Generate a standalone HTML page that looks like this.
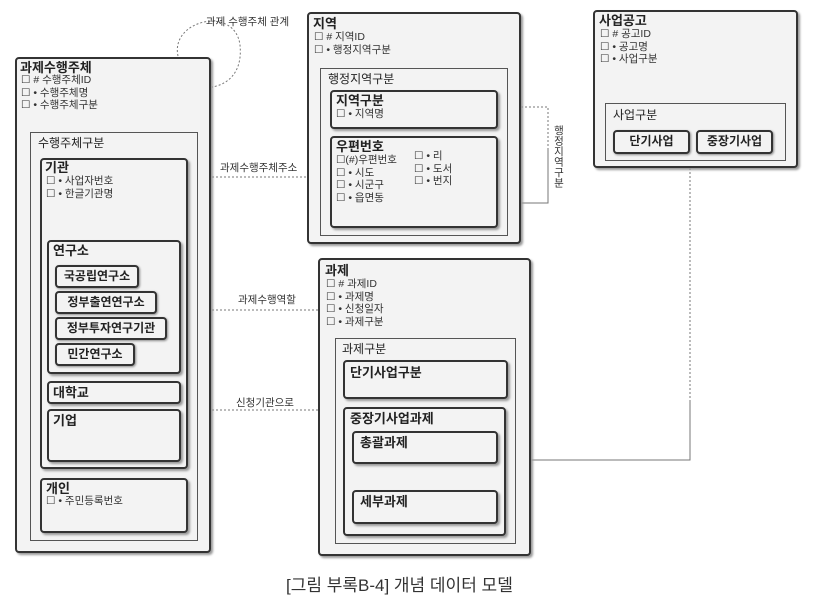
<!DOCTYPE html>
<html><head><meta charset="utf-8"><style>
body{margin:0;width:819px;height:607px;background:#fff;position:relative;overflow:hidden;font-family:"Liberation Sans","Noto Sans CJK KR",sans-serif;color:#222}
.b{position:absolute;box-sizing:border-box;border:2px solid #333;border-radius:4px;background:#f3f3f3;box-shadow:2px 2px 2px #999}
.f{position:absolute;box-sizing:border-box;border:1px solid #555;background:#f3f3f3}
.t{position:absolute;font-size:12px;white-space:nowrap;line-height:13px}
.h{font-weight:bold;font-size:13px}
.a{font-size:10.5px;line-height:12.5px;color:#333}
.btn{position:absolute;box-sizing:border-box;border:2px solid #333;border-radius:4px;background:#f3f3f3;box-shadow:1px 1px 2px #888;font-weight:bold;font-size:12px;text-align:center;line-height:18px}
svg{position:absolute;left:0;top:0}
</style></head><body>
<svg width="819" height="607">
<g fill="none" stroke="#777" stroke-width="1">
<path d="M178 56 C170 20,235 5,240 45 C243 75,225 85,212 87" stroke-dasharray="2,2"/>
<line x1="212" y1="177" x2="307" y2="177" stroke-dasharray="2,2"/>
<line x1="212" y1="310" x2="318" y2="310" stroke-dasharray="2,2"/>
<line x1="212" y1="410" x2="318" y2="410" stroke-dasharray="2,2"/>
<path d="M497 107 H548 V150" stroke-dasharray="2,2"/>
<path d="M548 150 V203 H497"/>
<path d="M690 168 V400" stroke-dasharray="2,2"/>
<path d="M690 400 V460 H530"/>
<path d="M424 464 V476" stroke-dasharray="2,2"/>
<path d="M424 476 V490"/>
</g></svg>
<div class="t a" style="left:206px;top:16px">과제 수행주체 관계</div>
<div class="t a" style="left:220px;top:162px">과제수행주체주소</div>
<div class="t a" style="left:238px;top:294px">과제수행역할</div>
<div class="t a" style="left:236px;top:397px">신청기관으로</div>
<div class="t a" style="left:428px;top:472px">총괄과제로</div>
<div class="t a" style="left:552px;top:125px;writing-mode:vertical-rl">행정지역구분</div>

<div class="b" style="left:15px;top:57px;width:196px;height:496px"></div>
<div class="t h" style="left:20px;top:61px">과제수행주체</div>
<div class="t a" style="left:21px;top:74px">☐ # 수행주체ID<br>☐ • 수행주체명<br>☐ • 수행주체구분</div>
<div class="f" style="left:30px;top:132px;width:168px;height:409px"></div>
<div class="t" style="left:38px;top:137px">수행주체구분</div>
<div class="b" style="left:40px;top:158px;width:148px;height:311px"></div>
<div class="t h" style="left:45px;top:161px">기관</div>
<div class="t a" style="left:46px;top:175px">☐ • 사업자번호<br>☐ • 한글기관명</div>
<div class="b" style="left:47px;top:240px;width:134px;height:134px"></div>
<div class="t h" style="left:53px;top:244px">연구소</div>
<div class="btn" style="left:55px;top:265px;width:84px;height:23px">국공립연구소</div>
<div class="btn" style="left:55px;top:291px;width:102px;height:23px">정부출연연구소</div>
<div class="btn" style="left:55px;top:317px;width:112px;height:23px">정부투자연구기관</div>
<div class="btn" style="left:55px;top:343px;width:80px;height:23px">민간연구소</div>
<div class="b" style="left:47px;top:381px;width:134px;height:23px"></div>
<div class="t h" style="left:53px;top:386px">대학교</div>
<div class="b" style="left:47px;top:409px;width:134px;height:53px"></div>
<div class="t h" style="left:53px;top:414px">기업</div>
<div class="b" style="left:40px;top:478px;width:148px;height:55px"></div>
<div class="t h" style="left:46px;top:482px">개인</div>
<div class="t a" style="left:46px;top:495px">☐ • 주민등록번호</div>

<div class="b" style="left:307px;top:12px;width:214px;height:232px"></div>
<div class="t h" style="left:313px;top:17px">지역</div>
<div class="t a" style="left:314px;top:31px">☐ # 지역ID<br>☐ • 행정지역구분</div>
<div class="f" style="left:320px;top:68px;width:188px;height:168px"></div>
<div class="t" style="left:328px;top:73px">행정지역구분</div>
<div class="b" style="left:330px;top:90px;width:168px;height:39px"></div>
<div class="t h" style="left:336px;top:94px">지역구분</div>
<div class="t a" style="left:336px;top:108px">☐ • 지역명</div>
<div class="b" style="left:330px;top:136px;width:168px;height:92px"></div>
<div class="t h" style="left:336px;top:140px">우편번호</div>
<div class="t a" style="left:336px;top:154px">☐(#)우편번호<br>☐ • 시도<br>☐ • 시군구<br>☐ • 읍면동</div>
<div class="t a" style="left:414px;top:150px">☐ • 리<br>☐ • 도서<br>☐ • 번지</div>

<div class="b" style="left:318px;top:258px;width:213px;height:298px"></div>
<div class="t h" style="left:325px;top:264px">과제</div>
<div class="t a" style="left:326px;top:278px">☐ # 과제ID<br>☐ • 과제명<br>☐ • 신청일자<br>☐ • 과제구분</div>
<div class="f" style="left:335px;top:338px;width:181px;height:206px"></div>
<div class="t" style="left:342px;top:343px">과제구분</div>
<div class="b" style="left:343px;top:360px;width:165px;height:39px"></div>
<div class="t h" style="left:350px;top:366px">단기사업구분</div>
<div class="b" style="left:343px;top:407px;width:163px;height:129px"></div>
<div class="t h" style="left:350px;top:412px">중장기사업과제</div>
<div class="b" style="left:352px;top:431px;width:146px;height:33px"></div>
<div class="t h" style="left:360px;top:436px">총괄과제</div>
<div class="b" style="left:352px;top:490px;width:146px;height:34px"></div>
<div class="t h" style="left:360px;top:495px">세부과제</div>

<div class="b" style="left:593px;top:10px;width:205px;height:158px"></div>
<div class="t h" style="left:599px;top:14px">사업공고</div>
<div class="t a" style="left:600px;top:28px">☐ # 공고ID<br>☐ • 공고명<br>☐ • 사업구분</div>
<div class="f" style="left:605px;top:103px;width:181px;height:58px"></div>
<div class="t" style="left:613px;top:109px">사업구분</div>
<div class="btn" style="left:613px;top:130px;width:77px;height:24px">단기사업</div>
<div class="btn" style="left:696px;top:130px;width:77px;height:24px">중장기사업</div>

<div class="t" style="left:286px;top:576px;font-size:17px;line-height:20px;color:#333">[그림 부록B-4] 개념 데이터 모델</div>
</body></html>
